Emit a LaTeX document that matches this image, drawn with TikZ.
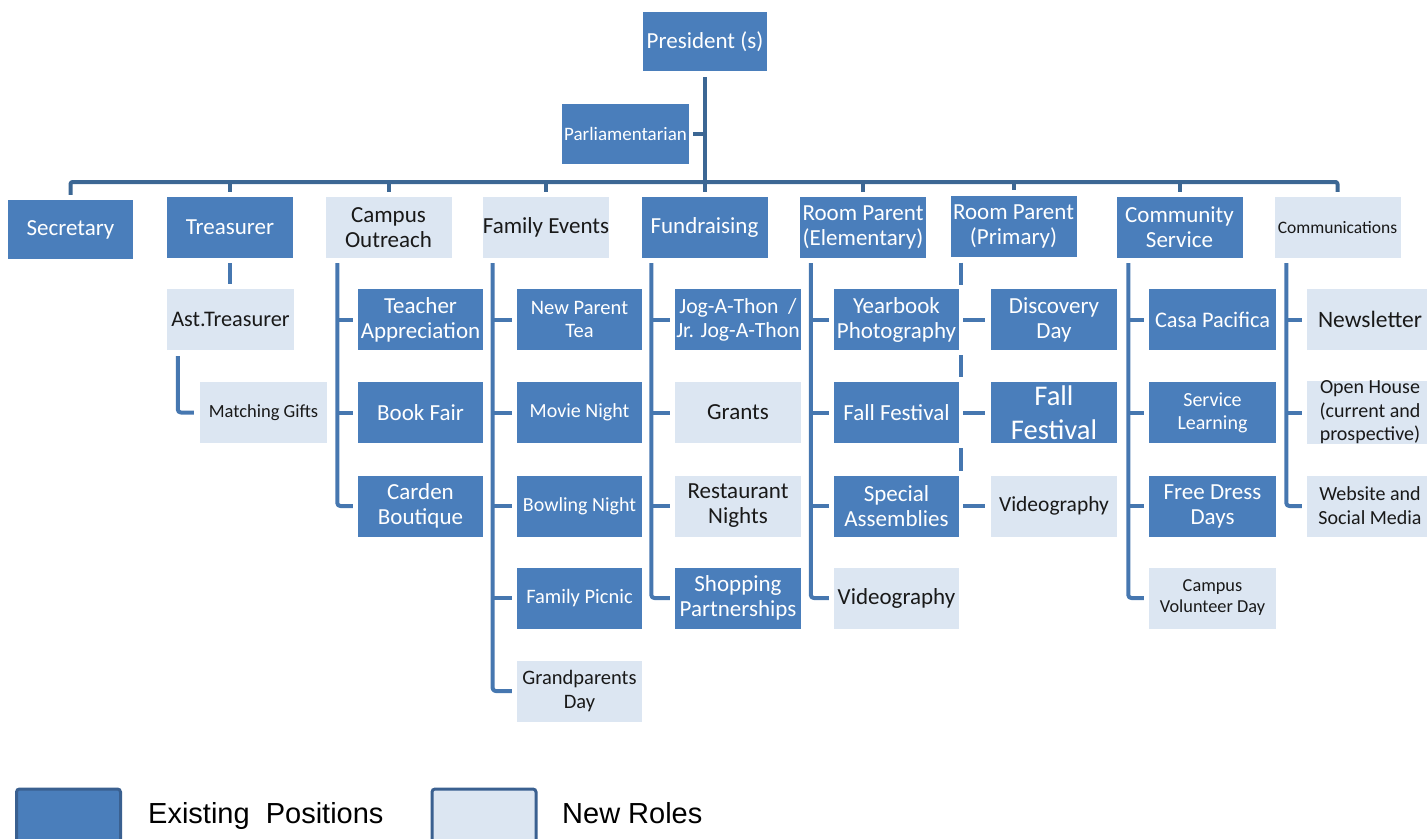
\documentclass[tikz,border=0pt]{standalone}
\usepackage{fontspec}
\setmainfont{Carlito}
\newfontfamily\legfont{Liberation Sans}
\usetikzlibrary{calc}
\definecolor{darkbox}{HTML}{4A7EBB}
\definecolor{lightbox}{HTML}{DCE6F2}
\definecolor{busline}{HTML}{3C6794}
\definecolor{kidline}{HTML}{4677B0}
\definecolor{legedge}{HTML}{3A6090}
\tikzset{
  box/.style={inner sep=0pt, minimum width=126pt, minimum height=61pt, align=center,
              font=\fontsize{23}{25}\selectfont},
  dk/.style={box, fill=darkbox, text=white},
  lt/.style={box, fill=lightbox, text=black!90},
  fs/.style 2 args={font=\fontsize{#1}{#2}\selectfont},
  bus/.style={draw=busline, line width=4pt, line join=round, rounded corners=2pt},
  kid/.style={draw=kidline, line width=4pt, line join=round, rounded corners=3pt},
  legbox/.style={draw=legedge, line width=3pt, rounded corners=3pt, minimum width=104pt,
                 minimum height=70pt, inner sep=0pt},
  legtext/.style={anchor=base west, inner sep=0pt, font=\legfont\fontsize{29}{30}\selectfont}
}
\begin{document}
\begin{tikzpicture}[x=1pt,y=-1pt]
\useasboundingbox (0,0) rectangle (1427,838);
% top
\node[dk, minimum width=124pt, minimum height=59pt] (pres) at (705,41.5) {President (s)};
\node[dk, minimum width=127pt, minimum height=60pt, fs={19}{21}] (parl) at (625.5,134) {Parliamentarian};
% row 1
\node[dk, minimum width=125pt, minimum height=59pt] (sec) at (70.5,229.5) {Secretary};
\node[dk] (trs) at (230,227.5) {Treasurer};
\node[lt] (cam) at (388.5,227.5) {Campus\\Outreach};
\node[lt] (fam) at (546,227.5) {Family Events};
\node[dk] (fun) at (704.5,227.5) {Fundraising};
\node[dk] (rpe) at (863,227.5) {Room Parent\\(Elementary)};
\node[dk] (rpp) at (1013.5,226) {Room Parent\\(Primary)};
\node[dk] (com) at (1179.5,227.5) {Community\\Service};
\node[lt, fs={17.5}{19}] (cmm) at (1337.5,227.5) {Communications};
% treasurer
\node[lt, minimum width=127pt, fs={22.3}{24}] (ast) at (230.5,319.5) {Ast.Treasurer};
\node[lt, minimum width=127pt, fs={18.5}{20}] (mg) at (263.5,412.5) {Matching Gifts};
% campus outreach
\node[dk, minimum width=125pt] (ta) at (420.5,319.5) {Teacher\\Appreciation};
\node[dk, minimum width=125pt] (bf) at (420.5,412.5) {Book Fair};
\node[dk, minimum width=125pt] (cb) at (420.5,506) {Carden\\Boutique};
% family events
\node[dk, minimum width=125pt, fs={20.5}{23.5}] (npt) at (579.5,319.5) {New Parent\\Tea};
\node[dk, minimum width=125pt, fs={20}{23}] (mn) at (579.5,412.5) {Movie Night};
\node[dk, minimum width=125pt, fs={20}{23}] (bn) at (579.5,506) {Bowling Night};
\node[dk, minimum width=125pt, fs={20.5}{23}] (fp) at (579.5,598) {Family Picnic};
\node[lt, minimum width=125pt, fs={20.5}{24}] (gd) at (579.5,691) {Grandparents\\Day};
% fundraising
\node[dk, fs={21.7}{24}] (jog) at (738,319.5) {Jog-A-Thon\ \ /\\Jr. Jog-A-Thon};
\node[lt] (gr) at (738,412.5) {Grants};
\node[lt] (rn) at (738,506) {Restaurant\\Nights};
\node[dk] (sp) at (738,598) {Shopping\\Partnerships};
% room parent elementary
\node[dk, minimum width=125pt] (yp) at (896.5,319.5) {Yearbook\\Photography};
\node[dk, minimum width=125pt] (ffe) at (896.5,412.5) {Fall Festival};
\node[dk, minimum width=125pt] (sa) at (896.5,506) {Special\\Assemblies};
\node[lt, minimum width=125pt] (ve) at (896.5,598) {Videography};
% room parent primary
\node[dk] (dd) at (1054,319.5) {Discovery\\Day};
\node[dk, fs={28.5}{34}] (ffp) at (1054,412.5) {Fall\\Festival};
\node[lt, fs={21.5}{23}] (vp) at (1054,506) {Videography};
% community service
\node[dk, minimum width=127pt, fs={22.3}{24}] (cp) at (1212.5,319.5) {Casa Pacifica};
\node[dk, minimum width=127pt, fs={20}{23}] (sl) at (1212.5,412.5) {Service\\Learning};
\node[dk, minimum width=127pt] (fdd) at (1212.5,506) {Free Dress\\Days};
\node[lt, minimum width=127pt, fs={18.3}{21}] (cvd) at (1212.5,598) {Campus\\Volunteer Day};
% communications
\node[lt, fs={23.5}{25}] (nl) at (1370,319.5) {Newsletter};
\node[lt, fs={20}{23.5}] (oh) at (1370,412.5) {Open House\\(current and\\prospective)};
\node[lt, fs={20}{24}] (ws) at (1370,506) {Website and\\Social Media};
% ---- top connectors
\coordinate (busy) at (0,182);
\draw[bus] ($(sec.north)+(0,-5)$) -- (sec.north |- busy) -- (cmm.north |- busy) -- ($(cmm.north)+(0,-5)$);
\foreach \n in {trs,cam,fam,rpe,rpp,com}
  \draw[bus, rounded corners=0pt] (\n.north |- busy) -- ($(\n.north)+(0,-5)$);
\draw[bus, rounded corners=0pt] ($(pres.south)+(0,6)$) -- ($(pres.south |- fun.north)+(0,-5)$);
\draw[bus, rounded corners=0pt] ($(parl.east)+(4,0)$) -- (parl.east -| pres.south);
% ---- treasurer
\draw[kid] ($(trs.south)+(0,5)$) -- ($(trs.south |- ast.north)+(0,-5)$);
\draw[kid] ($(ast.south west)+(11,6)$) |- ($(mg.west)+(-6,0)$);
% ---- campus outreach
\coordinate (camx) at ($(cam.south west)+(12,5)$);
\draw[kid] (camx) |- ($(cb.west)+(-5,0)$);
\foreach \c in {ta,bf} \draw[kid] (camx |- \c.west) -- ($(\c.west)+(-5,0)$);
% ---- family events
\coordinate (famx) at ($(fam.south west)+(10,5)$);
\draw[kid] (famx) |- ($(gd.west)+(-5,0)$);
\foreach \c in {npt,mn,bn,fp} \draw[kid] (famx |- \c.west) -- ($(\c.west)+(-5,0)$);
% ---- fundraising
\coordinate (funx) at ($(fun.south west)+(10,5)$);
\draw[kid] (funx) |- ($(sp.west)+(-5,0)$);
\foreach \c in {jog,gr,rn} \draw[kid] (funx |- \c.west) -- ($(\c.west)+(-5,0)$);
% ---- room parent elementary
\coordinate (rpex) at ($(rpe.south west)+(11,5)$);
\draw[kid] (rpex) |- ($(ve.west)+(-5,0)$);
\foreach \c in {yp,ffe,sa} \draw[kid] (rpex |- \c.west) -- ($(\c.west)+(-5,0)$);
% ---- room parent primary
\coordinate (rppx) at ($(rpp.south west)+(11,6)$);
\draw[kid] (rppx) -- ($(rppx |- yp.north)+(0,-4)$);
\draw[kid] ($(rppx |- yp.south)+(0,5)$) -- ($(rppx |- ffe.north)+(0,-5)$);
\draw[kid] ($(rppx |- ffe.south)+(0,5)$) -- ($(rppx |- sa.north)+(0,-4)$);
\foreach \c in {dd,ffp,vp} \draw[kid] ($(rppx |- \c.west)+(2,0)$) -- ($(\c.west)+(-6,0)$);
% ---- community service
\coordinate (comx) at ($(com.south west)+(12,5)$);
\draw[kid] (comx) |- ($(cvd.west)+(-5,0)$);
\foreach \c in {cp,sl,fdd} \draw[kid] (comx |- \c.west) -- ($(\c.west)+(-5,0)$);
% ---- communications
\coordinate (cmmx) at ($(cmm.south west)+(12,5)$);
\draw[kid] (cmmx) |- ($(ws.west)+(-5,0)$);
\foreach \c in {nl,oh} \draw[kid] (cmmx |- \c.west) -- ($(\c.west)+(-5,0)$);
% ---- legend
\node[legbox, fill=darkbox] (legd) at (68.5,824) {};
\node[legbox, fill=lightbox] (legl) at (484,824) {};
\node[legtext] (legdt) at (148,823) {Existing\ \ Positions};
\node[legtext] (leglt) at (562,823) {New Roles};
\end{tikzpicture}
\end{document}
